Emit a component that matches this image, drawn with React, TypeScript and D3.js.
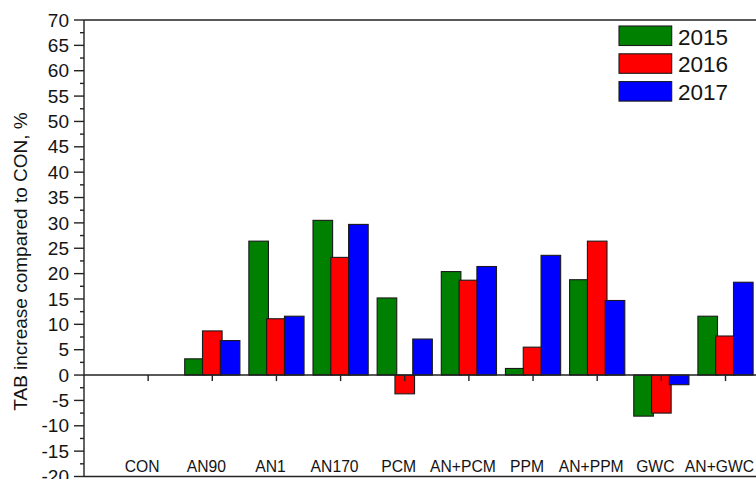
import React from "react";
import * as d3 from "d3";

// Treatments along the x axis
const categories = ["CON", "AN90", "AN1", "AN170", "PCM", "AN+PCM", "PPM", "AN+PPM", "GWC", "AN+GWC"];

// TAB increase relative to CON (%) for each year
const years = ["2015", "2016", "2017"];
const values2015 = [0, 3.2, 26.4, 30.5, 15.2, 20.4, 1.3, 18.8, -8.1, 11.6];
const values2016 = [0, 8.7, 11.1, 23.2, -3.7, 18.7, 5.5, 26.4, -7.5, 7.7];
const values2017 = [0, 6.8, 11.6, 29.7, 7.1, 21.4, 23.6, 14.7, -1.9, 18.3];
const yearColors = ["#008000", "#ff0000", "#0000ff"];

const yMajorTicks = d3.range(-20, 71, 5);
const yMinorTicks = d3.range(-17.5, 70, 5);

const W = 756;
const H = 479;

export default function App() {
  const left = 84;
  const top = 20;
  const bottom = 476.5;
  const step = 64.15;

  // Categories sit at positions 1..10 on a 0..11 axis
  const x = d3.scaleLinear().domain([0, 11]).range([left, left + 11 * step]);
  const y = d3.scaleLinear().domain([-20, 70]).range([bottom, top]);

  const series = [values2015, values2016, values2017];
  const barW = 19.6;
  const offsets = [-17.8, 0, 17.8];
  const textColor = "#141414";
  const axisColor = "#222";

  return (
    <svg
      width={W}
      height={H}
      style={{ position: "absolute", left: 0, top: 0, background: "#fff" }}
      fontFamily="'Liberation Sans', Arial, sans-serif"
    >
      {/* bars */}
      {series.map((vals, si) =>
        vals.map((v, ci) => {
          const cx = x(ci + 1) + offsets[si];
          const y0 = y(0);
          const yv = y(v);
          return (
            <rect
              key={`b-${si}-${ci}`}
              x={cx - barW / 2}
              y={Math.min(y0, yv)}
              width={barW}
              height={Math.abs(yv - y0)}
              fill={yearColors[si]}
              stroke="#1a1a1a"
              strokeWidth={1.1}
            />
          );
        })
      )}

      {/* zero line with category ticks */}
      <line x1={left} x2={W} y1={y(0)} y2={y(0)} stroke={axisColor} strokeWidth={1.4} />
      {categories.map((c, i) => (
        <line
          key={`xt-${c}`}
          x1={x(i + 1)}
          x2={x(i + 1)}
          y1={y(0)}
          y2={y(0) + 6}
          stroke={axisColor}
          strokeWidth={1.4}
        />
      ))}

      {/* frame */}
      <line x1={left} x2={W} y1={top} y2={top} stroke={axisColor} strokeWidth={1.4} />
      <line x1={left} x2={W} y1={bottom} y2={bottom} stroke={axisColor} strokeWidth={1.4} />
      <line x1={left} x2={left} y1={top} y2={bottom} stroke={axisColor} strokeWidth={1.4} />

      {/* y axis ticks and labels */}
      {yMajorTicks.map((t) => (
        <g key={`yt-${t}`}>
          <line x1={left - 10} x2={left} y1={y(t)} y2={y(t)} stroke={axisColor} strokeWidth={1.4} />
          <text
            x={69}
            y={y(t)}
            dy="0.35em"
            textAnchor="end"
            fontSize={19}
            fill={textColor}
          >
            {t}
          </text>
        </g>
      ))}
      {yMinorTicks.map((t) => (
        <line key={`ym-${t}`} x1={left - 4} x2={left} y1={y(t)} y2={y(t)} stroke={axisColor} strokeWidth={1.4} />
      ))}

      {/* category labels */}
      {categories.map((c, i) => (
        <text
          key={`xl-${c}`}
          x={x(i + 1) - 6}
          y={471.5}
          textAnchor="middle"
          fontSize={15.7}
          fill={textColor}
        >
          {c}
        </text>
      ))}

      {/* y axis title */}
      <text
        transform={`translate(26.5,261.5) rotate(-90)`}
        textAnchor="middle"
        fontSize={19}
        fill={textColor}
      >
        TAB increase compared to CON, %
      </text>

      {/* legend */}
      {years.map((yr, i) => (
        <g key={`lg-${yr}`} transform={`translate(619,${26 + i * 27.8})`}>
          <rect x={0} y={0} width={52.7} height={19.5} fill={yearColors[i]} stroke="#1a1a1a" strokeWidth={1.1} />
          <text x={59} y={18.5} fontSize={22.5} fill={textColor}>
            {yr}
          </text>
        </g>
      ))}
    </svg>
  );
}
